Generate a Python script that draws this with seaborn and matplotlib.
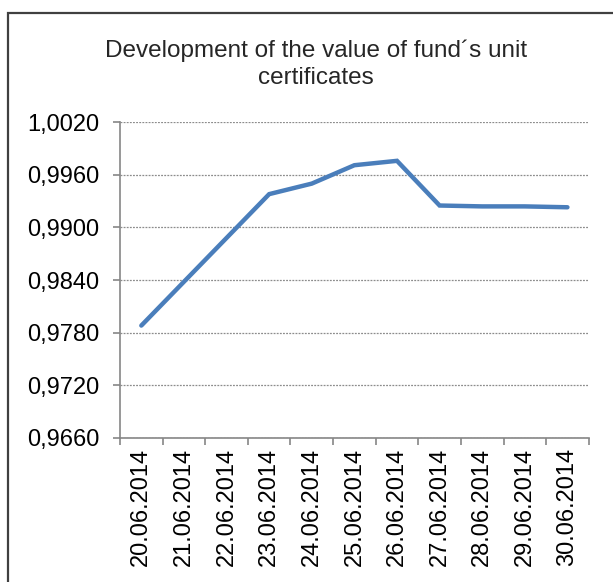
import numpy as np
import pandas as pd
import matplotlib
matplotlib.use("Agg")
import matplotlib.pyplot as plt
import seaborn as sns
from matplotlib.patches import Rectangle
from matplotlib.ticker import FuncFormatter

# Data
dates = ["20.06.2014", "21.06.2014", "22.06.2014", "23.06.2014", "24.06.2014",
         "25.06.2014", "26.06.2014", "27.06.2014", "28.06.2014", "29.06.2014",
         "30.06.2014"]
values = [0.9788, 0.9838, 0.9888, 0.9938, 0.9950, 0.9971, 0.9976,
          0.9925, 0.9924, 0.9924, 0.9923]
yticks = [0.9660, 0.9720, 0.9780, 0.9840, 0.9900, 0.9960, 1.0020]

sns.set_theme(style="white")
plt.rcParams['font.family'] = ['Liberation Sans', 'DejaVu Sans']

df = pd.DataFrame({"date": dates, "value": values})

fig = plt.figure(figsize=(6.13, 5.82), dpi=100)
ax = fig.add_axes([0.1958, 0.2479, 0.7646, 0.5420])

sns.lineplot(data=df, x="date", y="value", ax=ax, color="#4A7EBB",
             linewidth=3.2, solid_capstyle="round", solid_joinstyle="miter")

ax.set_ylim(yticks[0], yticks[-1])
ax.set_xlim(-0.5, len(dates) - 0.5)
ax.set_yticks(yticks)
ax.yaxis.set_major_formatter(FuncFormatter(lambda v, p: f"{v:.4f}".replace(".", ",")))
ax.grid(axis="y", linestyle=(0, (1.5, 1)), color="#8c8c8c", linewidth=0.9)
ax.set_axisbelow(True)

ax.set_xticks(range(len(dates)))
ax.set_xticklabels(dates, rotation=90)
ax.set_xticks(np.arange(-0.5, len(dates)), minor=True)
ax.tick_params(axis="x", which="major", length=0, pad=7.5, labelsize=17, colors="black")
ax.tick_params(axis="x", which="minor", length=5, width=1.2, color="#868686", direction="out", bottom=True)
ax.tick_params(axis="y", length=5, width=1.2, color="#868686", direction="out", left=True,
               labelsize=17, labelcolor="black", pad=10)

for side in ["top", "right"]:
    ax.spines[side].set_visible(False)
for side in ["left", "bottom"]:
    ax.spines[side].set_color("#868686")
    ax.spines[side].set_linewidth(1.2)

ax.set_xlabel("")
ax.set_ylabel("")

fig.text(0.515, 0.889, "Development of the value of fund´s unit\ncertificates",
         ha="center", va="center", fontsize=17.5, linespacing=1.3)

# outer chart border
fig.add_artist(Rectangle((8 / 613, -0.1), 1.0, 1 - 13 / 582 + 0.1,
                         transform=fig.transFigure, fill=False,
                         edgecolor="#404040", linewidth=1.6))

fig.savefig("out.png", dpi=100)
